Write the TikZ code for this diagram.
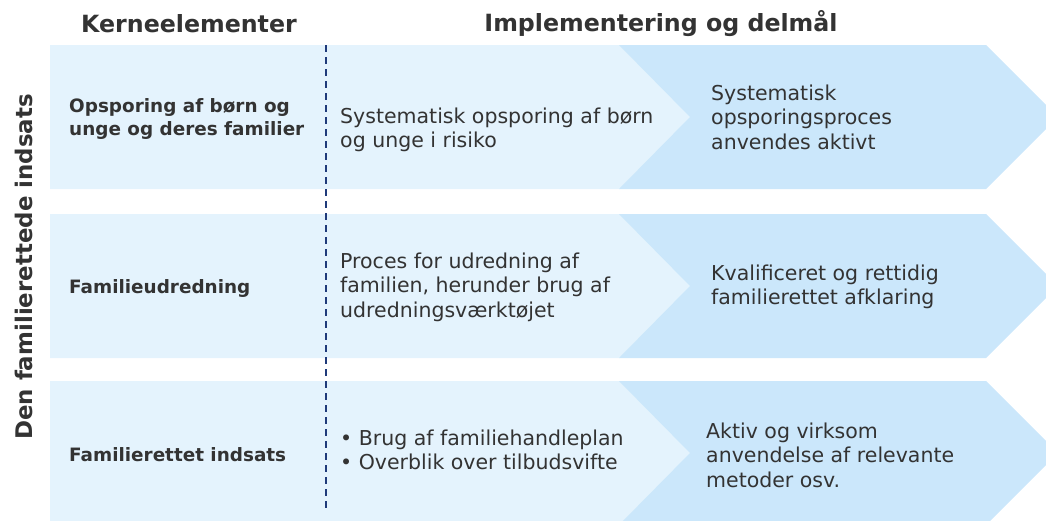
\documentclass[tikz,border=0pt]{standalone}
\usepackage{fontspec}
\setmainfont{DejaVu Sans}
\definecolor{lightblue}{HTML}{E4F3FD}
\definecolor{midblue}{HTML}{CBE7FB}
\definecolor{txt}{HTML}{333333}
\definecolor{navy}{HTML}{1F3A7A}
\begin{document}
\begin{tikzpicture}[x=1pt,y=-1pt,
  hdr/.style={font=\bfseries\fontsize{23.7}{27}\selectfont, text=txt, inner sep=0pt},
  side/.style={font=\bfseries\fontsize{22.9}{26}\selectfont, text=txt, inner sep=0pt, rotate=90},
  kern/.style={font=\bfseries\fontsize{18.4}{23}\selectfont, text=txt, inner sep=0pt, anchor=west, align=left},
  body/.style={font=\fontsize{20.5}{24.5}\selectfont, text=txt, inner sep=0pt, anchor=west, align=left},
  lightfill/.style={fill=lightblue},
  darkfill/.style={fill=midblue},
  divider/.style={draw=navy, line width=1.8pt, dash pattern=on 7pt off 5pt}]
\useasboundingbox (0,0) rectangle (1046,520);
\clip (0,0) rectangle (1046,520);
% rows: top y, half height 72
\foreach \t in {45,214,381}{
  \pgfmathsetmacro{\m}{\t+72}
  \pgfmathsetmacro{\b}{\t+144}
  \fill[lightfill] (50,\t) -- (620,\t) -- (691,\m) -- (620,\b) -- (50,\b) -- cycle;
  \fill[darkfill] (619,\t) -- (986,\t) -- (1058,\m) -- (986,\b) -- (619,\b) -- (690,\m) -- cycle;
}
\coordinate (dtop) at (326,45);
\coordinate (dbot) at (326,511);
\draw[divider] (dtop) -- (dbot);
% headers
\node[hdr] (h1) at (189,24) {Kerneelementer};
\node[hdr] (h2) at (661,24) {Implementering og delmål};
\node[side] (side) at (24,267) {Den familierettede indsats};
% row 1
\node[kern] (k1) at (69,119) {Opsporing af børn og\\unge og deres familier};
\node[body] (m1) at (340,130) {Systematisk opsporing af børn\\og unge i risiko};
\node[body] (r1) at (711,117) {Systematisk\\opsporingsproces\\anvendes aktivt};
% row 2
\node[kern] (k2) at (69,288) {Familieudredning};
\node[body] (m2) at (340,287) {Proces for udredning af\\familien, herunder brug af\\udredningsværktøjet};
\node[body] (r2) at (711,287) {Kvalificeret og rettidig\\familierettet afklaring};
% row 3
\node[kern] (k3) at (69,455) {Familierettet indsats};
\node[body] (m3) at (340,450) {• Brug af familiehandleplan\\• Overblik over tilbudsvifte};
\node[body] (r3) at (706,455) {Aktiv og virksom\\anvendelse af relevante\\metoder osv.};
\end{tikzpicture}
\end{document}
